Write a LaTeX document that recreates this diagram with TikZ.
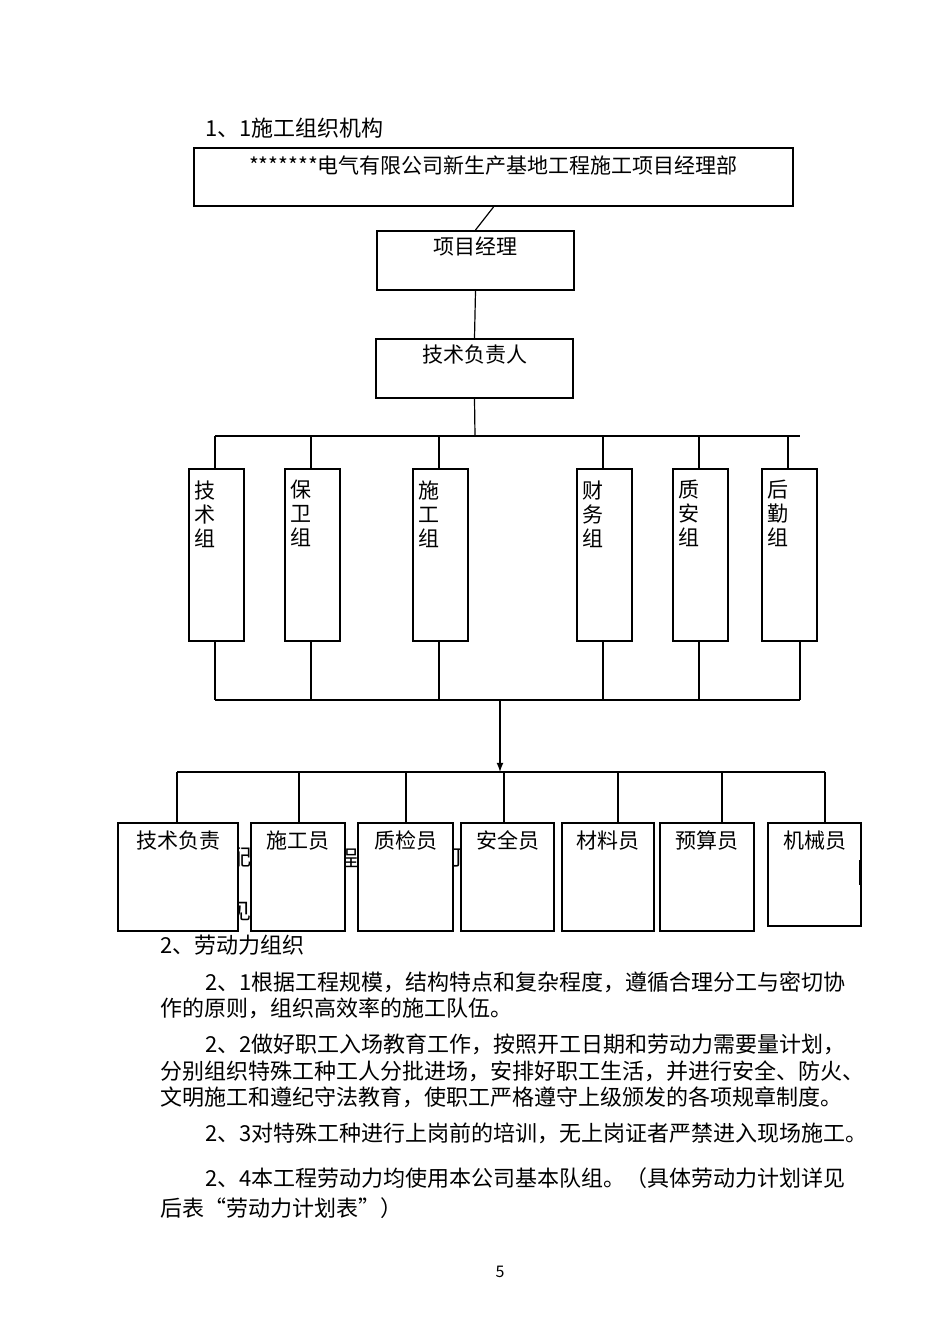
\documentclass[tikz,border=0pt]{standalone}
\usepackage{fontspec}
\setmainfont{Noto Sans CJK SC}
\usetikzlibrary{positioning}
\tikzset{
  box/.style={draw, line width=1pt, fill=white, anchor=north west, inner sep=0pt},
  boxtext/.style={font=\fontsize{10.5pt}{12pt}\selectfont, inner sep=0pt, anchor=north},
  grptext/.style={font=\fontsize{10.5pt}{12pt}\selectfont, inner sep=0pt, anchor=north, align=center},
  para/.style={font=\fontsize{11pt}{13pt}\selectfont, inner sep=0pt, anchor=west},
  link/.style={line width=0.6pt},
}
\begin{document}
\begin{tikzpicture}[x=0.5pt,y=-0.5pt]
\useasboundingbox (0,0) rectangle (950,1344);
\node[para] (title) at (205,128) {1、1施工组织机构};

% hidden text behind the staff boxes
\node[para] (hid1) at (229,858) {配};
\node[para] (hid2) at (336,858) {程};
\node[para] (hid3) at (442,858) {玎};
\node[para] (hid4) at (229,912) {见};

% top levels
\node[box, minimum width=299.5pt, minimum height=29pt] (hq) at (193,147) {};
\node[boxtext] at ([yshift=-4pt]hq.north) {*******电气有限公司新生产基地工程施工项目经理部};
\node[box, minimum width=98.5pt, minimum height=29.5pt] (pm) at (376,230) {};
\node[boxtext] at ([yshift=-3pt]pm.north) {项目经理};
\node[box, minimum width=98.5pt, minimum height=29.5pt] (tech) at (375,338) {};
\node[boxtext] at ([yshift=-3pt]tech.north) {技术负责人};
\draw[link] (hq.south) -- (pm.north);
\draw[link] (pm.south) -- (tech.north);
\coordinate (busA) at (475,436);
\draw[link] (tech.south) -- (busA);
\draw[link] (215,436) -- (800,436);

% groups
\foreach \x/\name/\lbl in {188/g1/技\\术\\组, 284/g2/保\\卫\\组, 412/g3/施\\工\\组,
                           576/g4/财\\务\\组, 672/g5/质\\安\\组, 761/g6/后\\勤\\组}{
  \node[box, minimum width=27.5pt, minimum height=86pt] (\name) at (\x,468) {};
  \node[grptext] at ([xshift=8.5pt,yshift=-6pt]\name.north west) {\lbl};
}
\foreach \x in {215,311,439,603,699,788}
  \draw[link] (\x,436) -- (\x,468);
\foreach \x in {215,311,439,603,699,800}
  \draw[link] (\x,640) -- (\x,700);
\draw[link] (215,700) -- (800,700);
\coordinate (busB) at (500,700);
\coordinate (busC) at (500,772);
\draw[link,-latex] (busB) -- (busC);
\draw[link] (177,772) -- (825,772);

% staff
\foreach \x/\w/\name/\lbl in {117/60/s1/技术负责, 250/47/s2/施工员, 357/47.5/s3/质检员,
                             460/46.5/s4/安全员, 561/46/s5/材料员, 659/47/s6/预算员}{
  \node[box, minimum width=\w pt, minimum height=54pt] (\name) at (\x,822) {};
  \node[boxtext] at ([yshift=-4pt]\name.north) {\lbl};
}
\node[box, minimum width=46.5pt, minimum height=51.5pt] (s7) at (767,822) {};
\node[boxtext] at ([yshift=-4pt]s7.north) {机械员};
\draw[link] (860,860) -- (860,885);
\foreach \x in {177,299,406,504,618,722,825}
  \draw[link] (\x,772) -- (\x,822);

% text
\node[para] at (160,945) {2、劳动力组织};
\node[para] at (205,982) {2、1根据工程规模，结构特点和复杂程度，遵循合理分工与密切协};
\node[para] at (160,1008) {作的原则，组织高效率的施工队伍。};
\node[para] at (205,1044) {2、2做好职工入场教育工作，按照开工日期和劳动力需要量计划，};
\node[para] at (160,1071) {分别组织特殊工种工人分批进场，安排好职工生活，并进行安全、防火、};
\node[para] at (160,1097) {文明施工和遵纪守法教育，使职工严格遵守上级颁发的各项规章制度。};
\node[para] at (205,1133) {2、3对特殊工种进行上岗前的培训，无上岗证者严禁进入现场施工。};
\node[para] at (205,1178) {2、4本工程劳动力均使用本公司基本队组。（具体劳动力计划详见};
\node[para] at (160,1208) {后表“劳动力计划表”）};
\node[font=\fontsize{8pt}{9pt}\selectfont] (page) at (500,1272) {5};
\end{tikzpicture}
\end{document}
